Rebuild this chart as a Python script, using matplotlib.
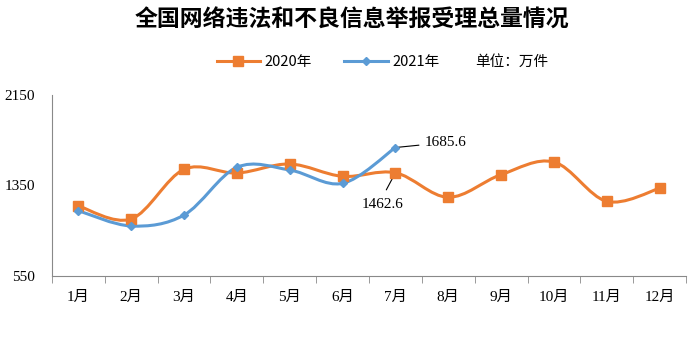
import numpy as np
import matplotlib.pyplot as plt
from matplotlib.path import Path
from matplotlib.patches import PathPatch

plt.rcParams['font.family'] = ['Liberation Serif', 'Noto Sans CJK SC']
plt.rcParams['axes.unicode_minus'] = False

months = ['1月', '2月', '3月', '4月', '5月', '6月', '7月', '8月', '9月', '10月', '11月', '12月']
v2020 = [1169, 1054, 1493, 1460, 1540, 1431, 1462.6, 1246, 1446, 1558, 1210, 1325]
v2021 = [1127, 992, 1089, 1511, 1487, 1369, 1685.6]
yticks = [550, 1350, 2150]

c2020 = '#ED7D31'
c2021 = '#5B9BD5'


def smooth_path(xs, ys):
    # Excel-like smoothed line: Catmull-Rom segments as cubic Bezier curves
    pts = np.column_stack([xs, ys]).astype(float)
    n = len(pts)
    verts = [pts[0]]
    codes = [Path.MOVETO]
    for i in range(n - 1):
        p0 = pts[i - 1] if i > 0 else pts[i]
        p1 = pts[i]
        p2 = pts[i + 1]
        p3 = pts[i + 2] if i + 2 < n else pts[i + 1]
        c1 = p1 + (p2 - p0) / 6
        c2 = p2 - (p3 - p1) / 6
        verts += [c1, c2, p2]
        codes += [Path.CURVE4] * 3
    return Path(verts, codes)


fig = plt.figure(figsize=(6.92, 3.51), dpi=100)
ax = fig.add_axes([52 / 692, 1 - 276 / 351, 634 / 692, 181 / 351])

x20 = np.arange(len(v2020))
x21 = np.arange(len(v2021))
ax.add_patch(PathPatch(smooth_path(x20, v2020), fill=False, edgecolor=c2020, lw=2.2, zorder=2))
ax.add_patch(PathPatch(smooth_path(x21, v2021), fill=False, edgecolor=c2021, lw=2.2, zorder=3))
l20, = ax.plot(x20, v2020, ls='none', marker='s', ms=6.5, color=c2020, zorder=4)
l21, = ax.plot(x21, v2021, ls='none', marker='D', ms=4.5, color=c2021, zorder=5)

ax.set_xlim(-0.5, 11.5)
ax.set_ylim(550, 2150)
ax.set_yticks(yticks)
ax.set_yticklabels([str(t) for t in yticks], fontsize=11)
ax.set_xticks(x20)
ax.set_xticklabels(months, fontsize=11)
ax.set_xticks(np.arange(-0.5, 12, 1), minor=True)
ax.tick_params(axis='x', which='major', length=0, pad=11)
ax.tick_params(axis='x', which='minor', length=5, color='#898989')
ax.tick_params(axis='y', length=0, pad=12)
for s in ['top', 'right']:
    ax.spines[s].set_visible(False)
for s in ['left', 'bottom']:
    ax.spines[s].set_color('#898989')

ax.annotate('1685.6', xy=(6, v2021[6]), xytext=(6.55, 1730), fontsize=11,
            va='center', ha='left',
            arrowprops=dict(arrowstyle='-', color='black', lw=0.8, shrinkA=2, shrinkB=2))
ax.annotate('1462.6', xy=(6, v2020[6]), xytext=(5.75, 1186), fontsize=11,
            va='center', ha='center',
            arrowprops=dict(arrowstyle='-', color='black', lw=0.8, shrinkA=4, shrinkB=4,
                            relpos=(0.5, 1.0)))

fig.text(352 / 692, 1 - 20 / 351, '全国网络违法和不良信息举报受理总量情况',
         ha='center', va='center', fontsize=16.5, fontweight='bold', family='Noto Sans CJK SC')

leg = fig.legend([l20, l21], ['2020年', '2021年'], loc='center', ncol=2,
                 bbox_to_anchor=(328 / 692, 1 - 62 / 351), frameon=False,
                 prop={'family': 'Noto Sans CJK SC', 'size': 10.5},
                 handlelength=3.0, columnspacing=2.2, handletextpad=0.3)
for h in leg.legend_handles:
    h.set_linestyle('-')
    h.set_linewidth(2.2)
fig.text(475 / 692, 1 - 62 / 351, '单位：万件', ha='left', va='center',
         fontsize=10.5, family='Noto Sans CJK SC')

fig.savefig('out.png', dpi=100)
